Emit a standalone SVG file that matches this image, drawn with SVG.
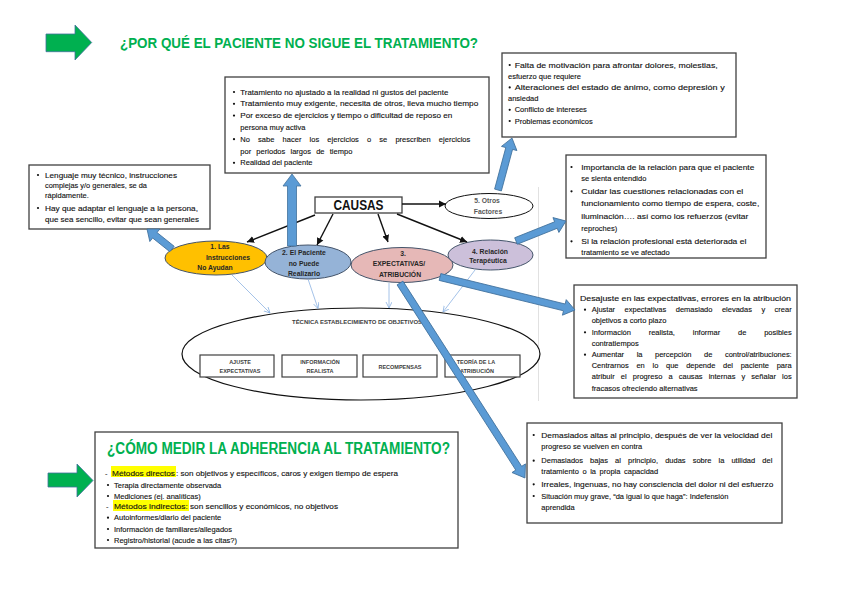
<svg xmlns="http://www.w3.org/2000/svg" width="848" height="599" viewBox="0 0 848 599">
<defs>
<style>
.bg{fill:#fff}
.box{fill:#fff;stroke:#404040;stroke-width:1.3}
.t{font-family:"Liberation Sans",Arial,sans-serif;font-size:7.5px;fill:#111;stroke:#111;stroke-width:0.12}
.bul{fill:#111}
.el{font-family:"Liberation Sans",Arial,sans-serif;font-size:6.8px;font-weight:bold;fill:#262626;text-anchor:middle}
.sb{fill:#fff;stroke:#404040;stroke-width:1.2}
.st{font-family:"Liberation Sans",Arial,sans-serif;font-size:5.5px;font-weight:bold;fill:#404040;text-anchor:middle}
.blue{fill:#5b9bd5;stroke:#41719c;stroke-width:0.8}
.green{fill:#00b050;stroke:#41719c;stroke-width:0.8}
.blk{stroke:#111;stroke-width:1.4;fill:none;marker-end:url(#ah)}
.thin{stroke:#8db3e2;stroke-width:0.8;fill:none;marker-end:url(#ah2)}
.title{font-family:"Liberation Sans",Arial,sans-serif;font-weight:bold;fill:#00b050}
.hl{fill:#ffff00}
</style>
<marker id="ah" markerUnits="userSpaceOnUse" markerWidth="8" markerHeight="8" refX="7" refY="4" orient="auto"><path d="M0,0.5 L7,4 L0,7.5 Z" fill="#111"/></marker>
<marker id="ah2" markerUnits="userSpaceOnUse" markerWidth="8" markerHeight="8" refX="6" refY="3" orient="auto"><path d="M0,0 L6,3 L0,6" fill="none" stroke="#8db3e2" stroke-width="0.8"/></marker>
</defs>
<rect class="bg" x="0" y="0" width="848" height="599"/>

<g id="title-top">
<path class="green" d="M46,34 L75,34 L75,25 L91.7,42.5 L75,60 L75,51.7 L46,51.7 Z"/>
<text class="title" x="120" y="48.3" font-size="14" textLength="358" lengthAdjust="spacingAndGlyphs">¿POR QUÉ EL PACIENTE NO SIGUE EL TRATAMIENTO?</text>
</g>

<line x1="538.5" y1="187" x2="538.5" y2="401" stroke="#d9d9d9" stroke-width="0.8"/>

<g id="box-instrucciones">
<rect class="box" x="29" y="165" width="181" height="64"/>
<circle class="bul" cx="38" cy="175" r="1.1"/>
<text class="t" x="45" y="177.5" textLength="132" lengthAdjust="spacingAndGlyphs">Lenguaje muy técnico, instrucciones</text>
<text class="t" x="45" y="187.5" textLength="102" lengthAdjust="spacingAndGlyphs">complejas y/o generales, se da</text>
<text class="t" x="45" y="197.5">rápidamente.</text>
<circle class="bul" cx="38" cy="208" r="1.1"/>
<text class="t" x="45" y="210.5" textLength="153" lengthAdjust="spacingAndGlyphs">Hay que adaptar el lenguaje a la persona,</text>
<text class="t" x="45" y="221.5" textLength="154" lengthAdjust="spacingAndGlyphs">que sea sencillo, evitar que sean generales</text>
</g>

<g id="box-paciente">
<rect class="box" x="225" y="77" width="264" height="96"/>
<circle class="bul" cx="234" cy="92" r="1.1"/>
<text class="t" x="240.3" y="94.5" textLength="208" lengthAdjust="spacingAndGlyphs">Tratamiento no ajustado a la realidad ni gustos del paciente</text>
<circle class="bul" cx="234" cy="103.8" r="1.1"/>
<text class="t" x="240.3" y="106.3" textLength="238" lengthAdjust="spacingAndGlyphs">Tratamiento muy exigente, necesita de otros, lleva mucho tiempo</text>
<circle class="bul" cx="234" cy="115.6" r="1.1"/>
<text class="t" x="240.3" y="118.1" textLength="212" lengthAdjust="spacingAndGlyphs">Por exceso de ejercicios y tiempo o dificultad de reposo en</text>
<text class="t" x="240.3" y="129.9">persona muy activa</text>
<circle class="bul" cx="234" cy="139.2" r="1.1"/>
<text class="t" x="240.3" y="141.7" word-spacing="6" textLength="230" lengthAdjust="spacing">No sabe hacer los ejercicios o se prescriben ejercicios</text>
<text class="t" x="240.3" y="153.5" word-spacing="3" textLength="112" lengthAdjust="spacing">por periodos largos de tiempo</text>
<circle class="bul" cx="234" cy="162.8" r="1.1"/>
<text class="t" x="240.3" y="165.3">Realidad del paciente</text>
</g>

<g id="box-otros">
<rect class="box" x="502" y="53" width="234" height="84"/>
<circle class="bul" cx="509.7" cy="65" r="1.1"/>
<text class="t" x="514.7" y="67.5" textLength="203" lengthAdjust="spacingAndGlyphs">Falta de motivación para afrontar dolores, molestias,</text>
<text class="t" x="508" y="78.7">esfuerzo que requiere</text>
<circle class="bul" cx="509.7" cy="87.4" r="1.1"/>
<text class="t" x="514.7" y="89.9" textLength="210" lengthAdjust="spacingAndGlyphs">Alteraciones del estado de ánimo, como depresión y</text>
<text class="t" x="508" y="101.1">ansiedad</text>
<circle class="bul" cx="509.7" cy="109.8" r="1.1"/>
<text class="t" x="514.7" y="112.3">Conflicto de intereses</text>
<circle class="bul" cx="509.7" cy="121" r="1.1"/>
<text class="t" x="514.7" y="123.5">Problemas económicos</text>
</g>

<g id="box-relacion">
<rect class="box" x="566" y="155" width="200" height="103"/>
<circle class="bul" cx="571.5" cy="167" r="1.1"/>
<text class="t" x="581.3" y="169.5" textLength="173" lengthAdjust="spacingAndGlyphs">Importancia de la relación para que el paciente</text>
<text class="t" x="581.3" y="181.2">se sienta entendido</text>
<circle class="bul" cx="571.5" cy="191.3" r="1.1"/>
<text class="t" x="581.3" y="193.8" textLength="162" lengthAdjust="spacingAndGlyphs">Cuidar las cuestiones relacionadas con el</text>
<text class="t" x="581.3" y="206.2" textLength="178" lengthAdjust="spacingAndGlyphs">funcionamiento como tiempo de espera, coste,</text>
<text class="t" x="581.3" y="218.5" textLength="167" lengthAdjust="spacingAndGlyphs">iluminación…. así como los refuerzos (evitar</text>
<text class="t" x="581.3" y="230.5">reproches)</text>
<circle class="bul" cx="571.5" cy="241.3" r="1.1"/>
<text class="t" x="581.3" y="243.8" textLength="165" lengthAdjust="spacingAndGlyphs">Si la relación profesional está deteriorada el</text>
<text class="t" x="581.3" y="255.2">tratamiento se ve afectado</text>
</g>

<g id="box-desajuste">
<rect class="box" x="574" y="285" width="223" height="113"/>
<text class="t" x="580" y="300.5" textLength="211" lengthAdjust="spacingAndGlyphs">Desajuste en las expectativas, errores en la atribución</text>
<circle class="bul" cx="585" cy="309.7" r="1.1"/>
<text class="t" x="591.7" y="312.2" word-spacing="7.4" textLength="200" lengthAdjust="spacing">Ajustar expectativas demasiado elevadas y crear</text>
<text class="t" x="591.7" y="323.2">objetivos a corto plazo</text>
<circle class="bul" cx="585" cy="332.3" r="1.1"/>
<text class="t" x="591.7" y="334.8" word-spacing="15.7" textLength="200" lengthAdjust="spacing">Información realista, informar de posibles</text>
<text class="t" x="591.7" y="345.5">contratiempos</text>
<circle class="bul" cx="585" cy="354.7" r="1.1"/>
<text class="t" x="591.7" y="357.2" word-spacing="10.5" textLength="200" lengthAdjust="spacing">Aumentar la percepción de control/atribuciones:</text>
<text class="t" x="591.7" y="368.2" word-spacing="5.6" textLength="200" lengthAdjust="spacing">Centrarnos en lo que depende del paciente para</text>
<text class="t" x="591.7" y="378.8" word-spacing="4" textLength="200" lengthAdjust="spacing">atribuir el progreso a causas internas y señalar los</text>
<text class="t" x="591.7" y="390.5">fracasos ofreciendo alternativas</text>
</g>

<g id="box-expectativas">
<rect class="box" x="527" y="423" width="255" height="100"/>
<circle class="bul" cx="533.7" cy="435" r="1.1"/>
<text class="t" x="541.3" y="437.5" textLength="231" lengthAdjust="spacingAndGlyphs">Demasiados altas al principio, después de ver la velocidad del</text>
<text class="t" x="541.3" y="449.2">progreso se vuelven en contra</text>
<circle class="bul" cx="533.7" cy="460.7" r="1.1"/>
<text class="t" x="541.3" y="463.2" word-spacing="5" textLength="231" lengthAdjust="spacing">Demasiados bajas al principio, dudas sobre la utilidad del</text>
<text class="t" x="541.3" y="474.2" word-spacing="1.5">tratamiento o la propia capacidad</text>
<circle class="bul" cx="533.7" cy="484.3" r="1.1"/>
<text class="t" x="541.3" y="486.8" textLength="232" lengthAdjust="spacingAndGlyphs">Irreales, ingenuas, no hay consciencia del dolor ni del esfuerzo</text>
<circle class="bul" cx="533.7" cy="496" r="1.1"/>
<text class="t" x="541.3" y="498.5" textLength="187" lengthAdjust="spacingAndGlyphs">Situación muy grave,  “da igual lo que haga”: Indefensión</text>
<text class="t" x="541.3" y="510.2">aprendida</text>
</g>

<g id="box-medir">
<path class="green" d="M48,473 L77,473 L77,464 L93,480.5 L77,497 L77,487 L48,487 Z"/>
<rect class="box" x="95" y="432" width="363" height="116"/>
<text class="title" x="107" y="454" font-size="16" textLength="343" lengthAdjust="spacingAndGlyphs">¿CÓMO MEDIR LA ADHERENCIA AL TRATAMIENTO?</text>
<rect class="hl" x="111" y="466" width="65" height="11"/>
<text class="t" x="105" y="475.8">-</text>
<text class="t" x="112" y="475.8" textLength="63" lengthAdjust="spacingAndGlyphs">Métodos directos</text>
<text class="t" x="176" y="475.8" textLength="222" lengthAdjust="spacingAndGlyphs">: son objetivos y específicos, caros y exigen tiempo de espera</text>
<circle class="bul" cx="108" cy="485" r="1.1"/>
<text class="t" x="114" y="487.5">Terapia directamente observada</text>
<circle class="bul" cx="108" cy="496" r="1.1"/>
<text class="t" x="114" y="498.5">Mediciones (ej. analíticas)</text>
<rect class="hl" x="113" y="500" width="76" height="11"/>
<text class="t" x="106" y="509.2">-</text>
<text class="t" x="114" y="509.2" textLength="74" lengthAdjust="spacingAndGlyphs">Métodos indirectos:</text>
<text class="t" x="190" y="509.2" textLength="148" lengthAdjust="spacingAndGlyphs">son sencillos y económicos, no objetivos</text>
<circle class="bul" cx="108" cy="517.7" r="1.1"/>
<text class="t" x="114" y="520.2">Autoinformes/diario del paciente</text>
<circle class="bul" cx="108" cy="529" r="1.1"/>
<text class="t" x="114" y="531.5">Información de familiares/allegados</text>
<circle class="bul" cx="108" cy="540" r="1.1"/>
<text class="t" x="114" y="542.5">Registro/historial (acude a las citas?)</text>
</g>

<g id="tecnica">
<ellipse cx="361" cy="354" rx="179" ry="46" fill="#fff" stroke="#111" stroke-width="1.2"/>
<text class="st" x="357" y="324" font-size="5.6" textLength="130" lengthAdjust="spacingAndGlyphs">TÉCNICA ESTABLECIMIENTO DE OBJETIVOS</text>
</g>
<g id="ajuste">
<rect class="sb" x="200" y="355" width="74" height="22"/>
<text class="st" x="240" y="363.5">AJUSTE</text>
<text class="st" x="240" y="373">EXPECTATIVAS</text>
</g>
<g id="informacion">
<rect class="sb" x="282" y="355" width="75" height="22"/>
<text class="st" x="320" y="363.5">INFORMACIÓN</text>
<text class="st" x="320" y="373">REALISTA</text>
</g>
<g id="recompensas">
<rect class="sb" x="363" y="355" width="74" height="22"/>
<text class="st" x="400" y="368.5">RECOMPENSAS</text>
</g>
<g id="teoria">
<rect class="sb" x="445" y="355" width="75" height="22"/>
<text class="st" x="476" y="363.5">TEORÍA DE LA</text>
<text class="st" x="477" y="373">ATRIBUCIÓN</text>
</g>

<g id="causas">
<rect class="box" x="315" y="197" width="87" height="16"/>
<text x="358.5" y="210" font-family="Liberation Sans, Arial, sans-serif" font-size="14" font-weight="bold" fill="#111" text-anchor="middle" textLength="50" lengthAdjust="spacingAndGlyphs">CAUSAS</text>
</g>
<g id="c1">
<ellipse cx="216" cy="258" rx="51" ry="17" fill="#ffc000" stroke="#44546a" stroke-width="1"/>
<text class="el" x="220" y="249">1. Las</text>
<text class="el" x="228" y="260">Instrucciones</text>
<text class="el" x="215" y="270">No Ayudan</text>
</g>
<g id="c2">
<ellipse cx="308" cy="262" rx="43" ry="17" fill="#95b3d7" stroke="#44546a" stroke-width="1"/>
<text class="el" x="304" y="255">2. El Paciente</text>
<text class="el" x="304" y="266">no Puede</text>
<text class="el" x="304" y="276">Realizarlo</text>
</g>
<g id="c3">
<ellipse cx="402" cy="265" rx="51" ry="17.5" fill="#e6b8b7" stroke="#44546a" stroke-width="1"/>
<text class="el" x="403" y="256">3.</text>
<text class="el" x="399" y="266">EXPECTATIVAS/</text>
<text class="el" x="400" y="276.5">ATRIBUCIÓN</text>
</g>
<g id="c4">
<ellipse cx="490.5" cy="255" rx="42.5" ry="15" fill="#ccc0da" stroke="#44546a" stroke-width="1"/>
<text class="el" x="490" y="253.5">4. Relación</text>
<text class="el" x="488" y="263">Terapéutica</text>
</g>
<g id="c5">
<ellipse cx="489" cy="206" rx="44" ry="12.5" fill="#fff" stroke="#111" stroke-width="1"/>
<text class="el" x="487" y="203" style="fill:#595959">5. Otros</text>
<text class="el" x="488" y="213.5" style="fill:#595959">Factores</text>
</g>

<g id="connectors">
<line class="blk" x1="315" y1="215" x2="247" y2="242"/>
<line class="blk" x1="333" y1="214" x2="317" y2="245"/>
<line class="blk" x1="378" y1="214" x2="388" y2="242"/>
<line class="blk" x1="397" y1="214" x2="467" y2="242"/>
<line class="blk" x1="402" y1="204" x2="446" y2="204"/>
<line class="thin" x1="232" y1="275" x2="270" y2="313"/>
<line class="thin" x1="308" y1="279" x2="318" y2="308.5"/>
<line class="thin" x1="389" y1="283" x2="389" y2="308"/>
<line class="thin" x1="475" y1="270" x2="443" y2="312"/>
<g transform="translate(172,249) rotate(-141.34)"><path class="blue" d="M0,-3.5 L22,-3.5 L22,-8 L32,0 L22,8 L22,3.5 L0,3.5 Z"/></g>
<g transform="translate(292,246) rotate(-90)"><path class="blue" d="M0,-4.5 L60,-4.5 L60,-9 L72,0 L60,9 L60,4.5 L0,4.5 Z"/></g>
<g transform="translate(498,190) rotate(-74.93)"><path class="blue" d="M0,-3.5 L43,-3.5 L43,-8 L53.8,0 L43,8 L43,3.5 L0,3.5 Z"/></g>
<g transform="translate(516,241) rotate(-21.8)"><path class="blue" d="M0,-3.5 L43,-3.5 L43,-8 L53.8,0 L43,8 L43,3.5 L0,3.5 Z"/></g>
<g transform="translate(440,277) rotate(13.74)"><path class="blue" d="M0,-3.5 L128,-3.5 L128,-8 L139,0 L128,8 L128,3.5 L0,3.5 Z"/></g>
<g transform="translate(400,283) rotate(57.34)"><path class="blue" d="M0,-3.5 L220,-3.5 L220,-8 L231.6,0 L220,8 L220,3.5 L0,3.5 Z"/></g>
</g>
</svg>
